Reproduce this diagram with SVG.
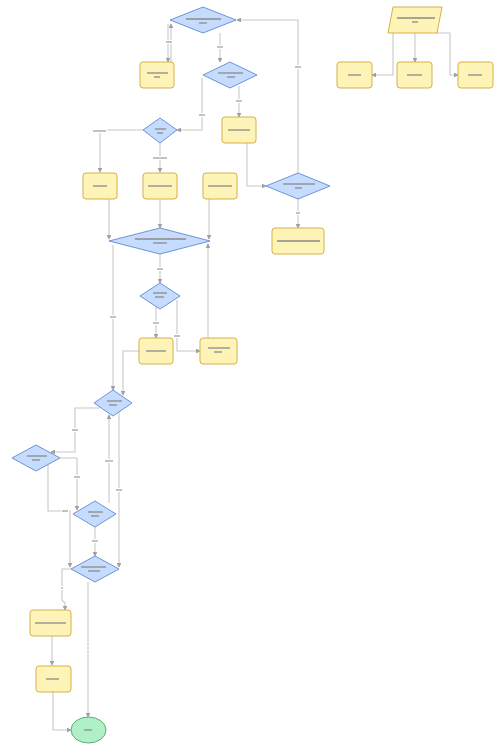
<svg xmlns="http://www.w3.org/2000/svg" width="500" height="751" viewBox="0 0 500 751">
<defs>
<style>
.box{fill:#fff4b8;stroke:#d5b048;stroke-width:1}
.dia{fill:#c6dcff;stroke:#6f93d6;stroke-width:1}
.end{fill:#b0f0c8;stroke:#5fae78;stroke-width:1}
.tx{stroke:#8a8a8a;stroke-width:1.3}
.ed{fill:none;stroke:#c8c8c8;stroke-width:1.1}
.lb{fill:#ffffff}
.lt{stroke:#9a9a9a;stroke-width:1.2}
</style>
<marker id="ah" viewBox="0 0 6 6" refX="5" refY="3" markerWidth="4.5" markerHeight="4.5" orient="auto">
<path d="M0,0 L6,3 L0,6 z" fill="#a0a0a0"/>
</marker>
</defs>
<rect width="500" height="751" fill="#ffffff"/>
<g id="connectors">
<path class="ed" d="M168,24 V62" marker-end="url(#ah)"/>
<path class="ed" d="M171,62 V24" marker-end="url(#ah)"/>
<path class="ed" d="M220,33 V62" marker-end="url(#ah)"/>
<path class="ed" d="M202,78 V130 H177" marker-end="url(#ah)"/>
<path class="ed" d="M239,86 V117" marker-end="url(#ah)"/>
<path class="ed" d="M143,130 H100 V172" marker-end="url(#ah)"/>
<path class="ed" d="M160,143 V172" marker-end="url(#ah)"/>
<path class="ed" d="M247,143 V186 H266" marker-end="url(#ah)"/>
<path class="ed" d="M298,173 V20 H237" marker-end="url(#ah)"/>
<path class="ed" d="M298,199 V228" marker-end="url(#ah)"/>
<path class="ed" d="M109,199 V239" marker-end="url(#ah)"/>
<path class="ed" d="M160,199 V228" marker-end="url(#ah)"/>
<path class="ed" d="M209,199 V239" marker-end="url(#ah)"/>
<path class="ed" d="M160,254 V283" marker-end="url(#ah)"/>
<path class="ed" d="M156,305 V338" marker-end="url(#ah)"/>
<path class="ed" d="M177,300 V351 H200" marker-end="url(#ah)"/>
<path class="ed" d="M208,338 V244" marker-end="url(#ah)"/>
<path class="ed" d="M113,245 V390" marker-end="url(#ah)"/>
<path class="ed" d="M139,351 H123 V395" marker-end="url(#ah)"/>
<path class="ed" d="M100,408 H75 V452 H51" marker-end="url(#ah)"/>
<path class="ed" d="M60,458 H77 V510" marker-end="url(#ah)"/>
<path class="ed" d="M48,463 V511 H70 V567" marker-end="url(#ah)"/>
<path class="ed" d="M95,527 V556" marker-end="url(#ah)"/>
<path class="ed" d="M109,503 V415" marker-end="url(#ah)"/>
<path class="ed" d="M119,408 V567" marker-end="url(#ah)"/>
<path class="ed" d="M72,569 H62 V600 L65,603 V610" marker-end="url(#ah)"/>
<path class="ed" d="M52,636 V665" marker-end="url(#ah)"/>
<path class="ed" d="M53,692 V730 H71" marker-end="url(#ah)"/>
<path class="ed" d="M88,582 V717" marker-end="url(#ah)"/>
<path class="ed" d="M393,33 V75 H372" marker-end="url(#ah)"/>
<path class="ed" d="M415,33 V62" marker-end="url(#ah)"/>
<path class="ed" d="M436,33 H450 V75 H458" marker-end="url(#ah)"/>
<g id="edge-labels">
<rect class="lb" x="165" y="40" width="8" height="4"/><line class="lt" x1="166" y1="42" x2="172" y2="42"/>
<rect class="lb" x="216" y="45" width="8" height="4"/><line class="lt" x1="217" y1="47" x2="223" y2="47"/>
<rect class="lb" x="198" y="113" width="8" height="4"/><line class="lt" x1="199" y1="115" x2="205" y2="115"/>
<rect class="lb" x="235" y="99" width="8" height="4"/><line class="lt" x1="236" y1="101" x2="242" y2="101"/>
<rect class="lb" x="92" y="129" width="15" height="4"/><line class="lt" x1="93" y1="131" x2="106" y2="131"/>
<rect class="lb" x="152" y="156" width="16" height="4"/><line class="lt" x1="153" y1="158" x2="167" y2="158"/>
<rect class="lb" x="294" y="65" width="8" height="4"/><line class="lt" x1="295" y1="67" x2="301" y2="67"/>
<rect class="lb" x="295" y="211" width="6" height="4"/><line class="lt" x1="296" y1="213" x2="300" y2="213"/>
<rect class="lb" x="156" y="267" width="8" height="4"/><line class="lt" x1="157" y1="269" x2="163" y2="269"/>
<rect class="lb" x="152" y="321" width="8" height="4"/><line class="lt" x1="153" y1="323" x2="159" y2="323"/>
<rect class="lb" x="173" y="334" width="8" height="4"/><line class="lt" x1="174" y1="336" x2="180" y2="336"/>
<rect class="lb" x="109" y="315" width="8" height="4"/><line class="lt" x1="110" y1="317" x2="116" y2="317"/>
<rect class="lb" x="71" y="428" width="8" height="4"/><line class="lt" x1="72" y1="430" x2="78" y2="430"/>
<rect class="lb" x="73" y="475" width="8" height="4"/><line class="lt" x1="74" y1="477" x2="80" y2="477"/>
<rect class="lb" x="61" y="509" width="8" height="4"/><line class="lt" x1="62" y1="511" x2="68" y2="511"/>
<rect class="lb" x="91" y="539" width="8" height="4"/><line class="lt" x1="92" y1="541" x2="98" y2="541"/>
<rect class="lb" x="104" y="459" width="10" height="4"/><line class="lt" x1="105" y1="461" x2="113" y2="461"/>
<rect class="lb" x="115" y="488" width="8" height="4"/><line class="lt" x1="116" y1="490" x2="122" y2="490"/>
<rect class="lb" x="60" y="586" width="4" height="4"/><line class="lt" x1="61" y1="588" x2="63" y2="588"/>
<rect class="lb" x="86" y="646" width="4" height="4"/><line class="lt" x1="87" y1="648" x2="89" y2="648"/>
</g>
</g>
<g id="D1"><polygon class="dia" points="170,20 203,7 236,20 203,33" stroke-linejoin="round"/><line class="tx" x1="186" y1="19" x2="221" y2="19"/><line class="tx" x1="199" y1="23" x2="207" y2="23"/></g>
<g id="B1"><rect class="box" x="140" y="62" width="34" height="26" rx="3"/><line class="tx" x1="147" y1="73" x2="168" y2="73"/><line class="tx" x1="154" y1="77" x2="160" y2="77"/></g>
<g id="D2"><polygon class="dia" points="203,75 230,62 257,75 230,88" stroke-linejoin="round"/><line class="tx" x1="218" y1="73" x2="243" y2="73"/><line class="tx" x1="227" y1="77" x2="235" y2="77"/></g>
<g id="P"><polygon class="box" points="393,7 442,7 437,33 388,33" stroke-linejoin="round"/><line class="tx" x1="397" y1="18" x2="435" y2="18"/><line class="tx" x1="412" y1="22" x2="418" y2="22"/></g>
<g id="R1"><rect class="box" x="337" y="62" width="35" height="26" rx="3"/><line class="tx" x1="348" y1="75" x2="361" y2="75"/></g>
<g id="R2"><rect class="box" x="397" y="62" width="35" height="26" rx="3"/><line class="tx" x1="407" y1="75" x2="422" y2="75"/></g>
<g id="R3"><rect class="box" x="458" y="62" width="35" height="26" rx="3"/><line class="tx" x1="468" y1="75" x2="482" y2="75"/></g>
<g id="D3"><polygon class="dia" points="143,130 160,118 177,130 160,143" stroke-linejoin="round"/><line class="tx" x1="155" y1="129" x2="166" y2="129"/><line class="tx" x1="157" y1="133" x2="163" y2="133"/></g>
<g id="B2"><rect class="box" x="222" y="117" width="34" height="26" rx="3"/><line class="tx" x1="228" y1="130" x2="250" y2="130"/></g>
<g id="B3"><rect class="box" x="83" y="173" width="34" height="26" rx="3"/><line class="tx" x1="93" y1="186" x2="107" y2="186"/></g>
<g id="B4"><rect class="box" x="143" y="173" width="34" height="26" rx="3"/><line class="tx" x1="148" y1="186" x2="172" y2="186"/></g>
<g id="B5"><rect class="box" x="203" y="173" width="34" height="26" rx="3"/><line class="tx" x1="208" y1="186" x2="232" y2="186"/></g>
<g id="D4"><polygon class="dia" points="266,186 298,173 330,186 298,199" stroke-linejoin="round"/><line class="tx" x1="283" y1="184" x2="315" y2="184"/><line class="tx" x1="295" y1="188" x2="302" y2="188"/></g>
<g id="B6"><rect class="box" x="272" y="228" width="52" height="26" rx="3"/><line class="tx" x1="277" y1="241" x2="320" y2="241"/></g>
<g id="D5"><polygon class="dia" points="109,241 160,228 210,241 160,254" stroke-linejoin="round"/><line class="tx" x1="135" y1="239" x2="186" y2="239"/><line class="tx" x1="153" y1="243" x2="167" y2="243"/></g>
<g id="D6"><polygon class="dia" points="140,296 160,283 180,296 160,309" stroke-linejoin="round"/><line class="tx" x1="153" y1="293" x2="167" y2="293"/><line class="tx" x1="155" y1="297" x2="164" y2="297"/></g>
<g id="B7"><rect class="box" x="139" y="338" width="34" height="26" rx="3"/><line class="tx" x1="146" y1="351" x2="166" y2="351"/></g>
<g id="B8"><rect class="box" x="200" y="338" width="37" height="26" rx="3"/><line class="tx" x1="208" y1="348" x2="230" y2="348"/><line class="tx" x1="214" y1="352" x2="222" y2="352"/></g>
<g id="D7"><polygon class="dia" points="94,403 113,390 132,403 113,416" stroke-linejoin="round"/><line class="tx" x1="107" y1="401" x2="122" y2="401"/><line class="tx" x1="109" y1="405" x2="117" y2="405"/></g>
<g id="D8"><polygon class="dia" points="12,458 36,445 60,458 36,471" stroke-linejoin="round"/><line class="tx" x1="27" y1="456" x2="47" y2="456"/><line class="tx" x1="32" y1="460" x2="40" y2="460"/></g>
<g id="D9"><polygon class="dia" points="73,514 95,501 116,514 95,527" stroke-linejoin="round"/><line class="tx" x1="88" y1="512" x2="103" y2="512"/><line class="tx" x1="91" y1="516" x2="99" y2="516"/></g>
<g id="D10"><polygon class="dia" points="71,569 95,556 119,569 95,582" stroke-linejoin="round"/><line class="tx" x1="81" y1="567" x2="106" y2="567"/><line class="tx" x1="88" y1="571" x2="100" y2="571"/></g>
<g id="B9"><rect class="box" x="30" y="610" width="41" height="26" rx="3"/><line class="tx" x1="35" y1="623" x2="66" y2="623"/></g>
<g id="B10"><rect class="box" x="36" y="666" width="35" height="26" rx="3"/><line class="tx" x1="46" y1="679" x2="59" y2="679"/></g>
<g id="End"><ellipse class="end" cx="88.5" cy="730" rx="17.5" ry="13"/><line class="tx" x1="84" y1="730" x2="92" y2="730"/></g>
</svg>
